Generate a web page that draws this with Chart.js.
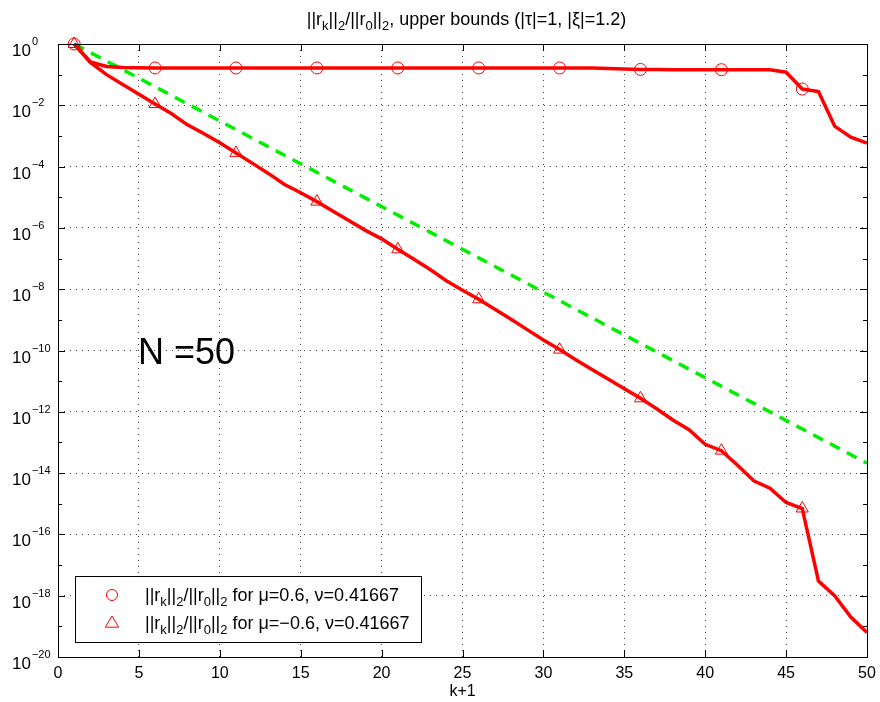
<!DOCTYPE html>
<html>
<head>
<meta charset="utf-8">
<script src="https://cdn.jsdelivr.net/npm/chart.js@4.4.1/dist/chart.umd.min.js"></script>
<style>
  html, body { margin: 0; padding: 0; background: #fff; }
  #wrap { width: 880px; height: 702px; }
</style>
</head>
<body>
<div id="wrap"><canvas id="c" width="880" height="702"></canvas></div>
<script>
const iters = [1, 2, 3, 4, 5, 6, 7, 8, 9, 10, 11, 12, 13, 14, 15, 16, 17, 18, 19, 20,
  21, 22, 23, 24, 25, 26, 27, 28, 29, 30, 31, 32, 33, 34, 35, 36, 37, 38, 39, 40,
  41, 42, 43, 44, 45, 46, 47, 48, 49, 50];

// ||r_k||/||r_0|| for mu = 0.6
const resPos = [1, 0.26, 0.185, 0.172, 0.168, 0.165, 0.165, 0.165, 0.165, 0.165,
  0.165, 0.165, 0.165, 0.165, 0.165, 0.165, 0.165, 0.165, 0.165, 0.165,
  0.165, 0.165, 0.165, 0.165, 0.165, 0.165, 0.165, 0.165, 0.165, 0.165,
  0.165, 0.165, 0.165, 0.158, 0.152, 0.148, 0.146, 0.145, 0.145, 0.145,
  0.145, 0.145, 0.145, 0.145, 0.12, 0.034, 0.028, 2.1e-3, 9.1e-4, 5.8e-4];

// ||r_k||/||r_0|| for mu = -0.6
const resNeg = [1, 2.5e-1, 1e-1, 4.8e-2, 2.3e-2, 1.1e-2, 5.4e-3, 2.3e-3, 1.2e-3, 6e-4,
  2.8e-4, 1.3e-4, 6e-5, 2.6e-5, 1.4e-5, 7.2e-6, 3.5e-6, 1.7e-6, 8.3e-7, 4.4e-7,
  2e-7, 9.5e-8, 4.4e-8, 1.9e-8, 9.3e-9, 4.7e-9, 2.2e-9, 1.05e-9, 4.8e-10, 2.2e-10,
  1.07e-10, 5e-11, 2.4e-11, 1.17e-11, 5.6e-12, 2.75e-12, 1.26e-12, 5.4e-13, 2.6e-13, 8.7e-14,
  5.4e-14, 1.8e-14, 5.6e-15, 3.2e-15, 1.1e-15, 7e-16, 3e-18, 1e-18, 2e-19, 6.3e-20];

// upper bound (green dashed)
const boundX = [1, 50];
const boundY = [1, 2.1e-14];

const xTicks = [0, 5, 10, 15, 20, 25, 30, 35, 40, 45, 50];
const yTicks = [1, 1e-2, 1e-4, 1e-6, 1e-8, 1e-10, 1e-12, 1e-14, 1e-16, 1e-18, 1e-20];
const yTickExp = ['0', '\u22122', '\u22124', '\u22126', '\u22128', '\u221210', '\u221212', '\u221214', '\u221216', '\u221218', '\u221220'];
const yDecades = [1, 1e-1, 1e-2, 1e-3, 1e-4, 1e-5, 1e-6, 1e-7, 1e-8, 1e-9, 1e-10,
  1e-11, 1e-12, 1e-13, 1e-14, 1e-15, 1e-16, 1e-17, 1e-18, 1e-19, 1e-20];

const FONT = '"Liberation Sans", Arial, Helvetica, sans-serif';
const RED = '#ff0000';

const norm = [['||r'], ['k', 'sub'], ['||'], ['2', 'sub'], ['/||r'], ['0', 'sub'], ['||'], ['2', 'sub']];
const titleParts = norm.concat([[', upper bounds (|\u03c4|=1, |\u03be|=1.2)']]);
const legendRows = [
  { parts: norm.concat([[' for \u03bc=0.6, \u03bd=0.41667']]), style: 'circle' },
  { parts: norm.concat([[' for \u03bc=\u22120.6, \u03bd=0.41667']]), style: 'triangle' }
];

function richWidth(ctx, parts, size) {
  let w = 0;
  parts.forEach(([t, k]) => {
    ctx.font = (k ? size * 0.72 : size) + 'px ' + FONT;
    w += ctx.measureText(t).width;
  });
  return w;
}

function drawRich(ctx, parts, x, y, size) {
  let cx = x;
  parts.forEach(([t, k]) => {
    const s = k ? size * 0.72 : size;
    ctx.font = s + 'px ' + FONT;
    const dy = k === 'sub' ? size * 0.3 : (k === 'sup' ? -size * 0.45 : 0);
    ctx.fillText(t, cx, y + dy);
    cx += ctx.measureText(t).width;
  });
}

function marker(ctx, style, x, y, r) {
  ctx.beginPath();
  if (style === 'circle') {
    ctx.arc(x, y, r, 0, Math.PI * 2);
  } else {
    ctx.moveTo(x, y - r);
    ctx.lineTo(x + r * 0.95, y + r * 0.6);
    ctx.lineTo(x - r * 0.95, y + r * 0.6);
    ctx.closePath();
  }
  ctx.stroke();
}

const decorations = {
  id: 'decorations',
  afterDraw(chart) {
    const ctx = chart.ctx;
    const a = chart.chartArea;
    const xs = chart.scales.x, ys = chart.scales.y;
    ctx.save();
    ctx.strokeStyle = '#000';
    ctx.lineWidth = 1;
    ctx.strokeRect(Math.round(a.left) + 0.5, Math.round(a.top) + 0.5,
      Math.round(a.right - a.left), Math.round(a.bottom - a.top));

    // inner tick marks
    ctx.beginPath();
    xTicks.forEach(v => {
      const px = Math.round(xs.getPixelForValue(v)) + 0.5;
      ctx.moveTo(px, a.bottom); ctx.lineTo(px, a.bottom - 7);
      ctx.moveTo(px, a.top); ctx.lineTo(px, a.top + 7);
    });
    yDecades.forEach((v, i) => {
      const py = Math.round(ys.getPixelForValue(v)) + 0.5;
      const len = i % 2 === 0 ? 7 : 4;
      ctx.moveTo(a.left, py); ctx.lineTo(a.left + len, py);
      ctx.moveTo(a.right, py); ctx.lineTo(a.right - len, py);
    });
    ctx.stroke();

    ctx.fillStyle = '#000';
    ctx.textBaseline = 'alphabetic';
    ctx.textAlign = 'left';

    // y tick labels 10^e
    yTicks.forEach((v, i) => {
      const py = ys.getPixelForValue(v);
      ctx.font = '17px ' + FONT;
      ctx.fillText('10', 12, py + 12);
      const w = ctx.measureText('10').width;
      ctx.font = '11px ' + FONT;
      ctx.fillText(yTickExp[i], 12 + w + 1, py + 1);
    });

    // title
    const tw = richWidth(ctx, titleParts, 18);
    drawRich(ctx, titleParts, (a.left + a.right) / 2 - tw / 2 + 4, 25, 18);

    // x axis title
    ctx.font = '16px ' + FONT;
    ctx.textAlign = 'center';
    ctx.fillText('k+1', (a.left + a.right) / 2, 696);
    ctx.textAlign = 'left';

    // annotation
    ctx.font = '36px ' + FONT;
    ctx.fillText('N =50', 138, 364);

    // legend
    ctx.fillStyle = '#fff';
    ctx.fillRect(75, 576, 346, 66);
    ctx.strokeStyle = '#000';
    ctx.strokeRect(75.5, 576.5, 346, 66);
    legendRows.forEach((row, i) => {
      const cy = 595 + i * 28;
      ctx.strokeStyle = RED;
      ctx.lineWidth = 1;
      marker(ctx, row.style, 112, cy, row.style === 'circle' ? 5.5 : 7);
      ctx.fillStyle = '#000';
      drawRich(ctx, row.parts, 145, cy + 6, 18);
    });
    ctx.restore();
  }
};

const toPts = (xsArr, ysArr) => xsArr.map((x, i) => ({ x: x, y: ysArr[i] }));
const every5 = r => (c => (c.dataIndex % 5 === 0 ? r : 0));

new Chart(document.getElementById('c'), {
  type: 'line',
  data: {
    datasets: [
      {
        data: toPts(iters, resPos),
        borderColor: RED, borderWidth: 3.5, tension: 0,
        pointStyle: 'circle', pointRadius: every5(6), pointHoverRadius: 0,
        pointBorderColor: RED, pointBackgroundColor: 'rgba(0,0,0,0)', pointBorderWidth: 1,
        clip: false
      },
      {
        data: toPts(iters, resNeg),
        borderColor: RED, borderWidth: 3.5, tension: 0,
        pointStyle: 'triangle', pointRadius: every5(7), pointHoverRadius: 0,
        pointBorderColor: RED, pointBackgroundColor: 'rgba(0,0,0,0)', pointBorderWidth: 1,
        clip: false
      },
      {
        data: toPts(boundX, boundY),
        borderColor: '#00ee00', borderWidth: 3.5, borderDash: [11, 8], tension: 0,
        pointRadius: 0, clip: false
      }
    ]
  },
  options: {
    responsive: false,
    animation: false,
    devicePixelRatio: 1,
    layout: { padding: { top: 44, right: 13, left: 0, bottom: 0 } },
    plugins: { legend: { display: false }, title: { display: false }, tooltip: { enabled: false } },
    scales: {
      x: {
        type: 'linear', min: 0, max: 50,
        afterBuildTicks: s => { s.ticks = xTicks.map(v => ({ value: v })); },
        afterFit: s => { s.height = 45; s.paddingRight = 0; s.paddingLeft = 0; },
        ticks: { font: { size: 16, family: FONT }, color: '#000', padding: 7, maxRotation: 0 },
        grid: { color: '#444', lineWidth: 1, drawTicks: false },
        border: { display: false, dash: [1, 5] }
      },
      y: {
        type: 'logarithmic', min: 1e-20, max: 1,
        afterBuildTicks: s => { s.ticks = yTicks.map(v => ({ value: v })); },
        afterFit: s => { s.width = 58; s.paddingTop = 0; s.paddingBottom = 0; },
        ticks: { display: false },
        grid: { color: '#444', lineWidth: 1, drawTicks: false },
        border: { display: false, dash: [1, 5] }
      }
    }
  },
  plugins: [decorations]
});
</script>
</body>
</html>
